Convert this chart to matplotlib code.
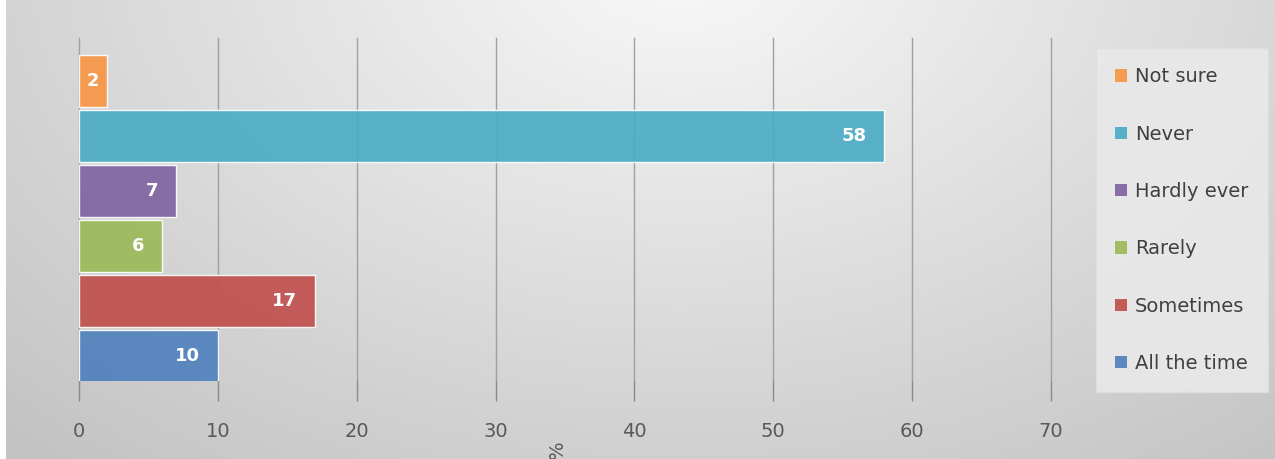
import numpy as np
import matplotlib
matplotlib.use("Agg")
import matplotlib.pyplot as plt
from matplotlib.patches import Patch

# Data (bottom to top)
categories = ["All the time", "Sometimes", "Rarely", "Hardly ever", "Never", "Not sure"]
values = [10, 17, 6, 7, 58, 2]
colors = ["#4F81BD", "#C0504D", "#9BBB59", "#8064A2", "#4BACC6", "#F79646"]
xticks = [0, 10, 20, 30, 40, 50, 60, 70]

W, H = 1275, 459
fig = plt.figure(figsize=(W / 100, H / 100), dpi=100)

# background gradient
bg = fig.add_axes([0, 0, 1, 1], zorder=-10)
yy, xx = np.mgrid[0:H, 0:W]
r = np.sqrt(((xx - 680) / 780.0) ** 2 + ((yy + 40) / 520.0) ** 2)
val = 0.975 - 0.19 * np.clip(r, 0, 1.25) / 1.25 * 1.1
val = np.clip(val, 0, 1)
img = np.dstack([val, val, val])
img[:, :6, :] = 1.0
bg.imshow(img, aspect="auto", extent=[0, 1, 0, 1], origin="upper")
bg.axis("off")

ax = fig.add_axes([79 / W, 1 - 381 / H, 972 / W, 343 / H])
ax.set_facecolor("none")
ypos = np.arange(len(categories))
bars = ax.barh(ypos, values, height=0.945, color=colors, alpha=0.92,
               edgecolor=(1, 1, 1, 0.5), linewidth=1, zorder=3)

for yi, v in zip(ypos, values):
    if v < 4:
        ax.text(v / 2, yi, str(v), ha="center", va="center", color="white",
                fontsize=13, fontweight="bold", zorder=4)
    else:
        ax.annotate(str(v), xy=(v, yi), xytext=(-13, 0), textcoords="offset points",
                    ha="right", va="center", color="white", fontsize=13,
                    fontweight="bold", zorder=4)

ax.set_xlim(0, 70)
ax.set_ylim(-0.455, 5.78)
ax.set_xticks(xticks)
ax.set_yticks([])
ax.xaxis.grid(True, color="#a0a0a0", linewidth=1, zorder=0)
for gl in ax.get_xgridlines():
    gl.set_clip_on(False)
ax.set_axisbelow(True)
for s in ax.spines.values():
    s.set_visible(False)
ax.tick_params(axis="x", direction="out", length=14.5, width=1, color="#8a8a8a",
               pad=15, labelsize=14, labelcolor="#595959")

fig.text(557 / W, 1 - 450 / H, "%", rotation=90, ha="center", va="center",
         fontsize=14, color="#595959")

handles = [Patch(facecolor=c, alpha=0.92, edgecolor="none") for c in colors[::-1]]
leg = fig.legend(handles, categories[::-1], loc="upper left",
                 bbox_to_anchor=(1096 / W, 1 - 48 / H), frameon=True,
                 fontsize=14, labelspacing=1.97, handlelength=0.6, handleheight=0.6,
                 handletextpad=0.4, borderpad=1.0, borderaxespad=0, fancybox=False,
                 labelcolor="#404040")
leg.get_frame().set_facecolor("#e9e9e9")
leg.get_frame().set_edgecolor("#dedede")
leg.get_frame().set_alpha(0.9)

fig.savefig("out.png", dpi=100)
